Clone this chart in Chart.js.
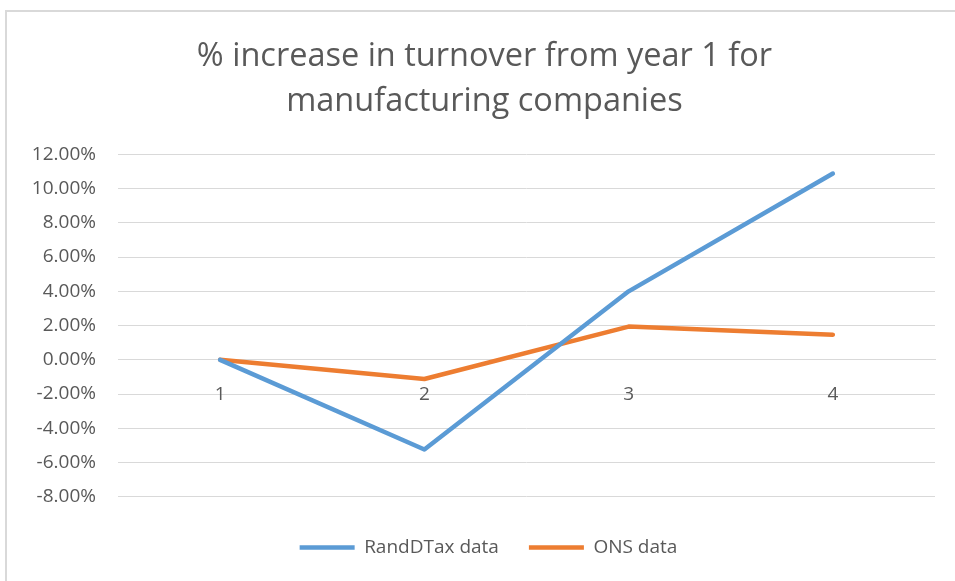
<!DOCTYPE html>
<html>
<head>
<meta charset="utf-8">
<script src="https://cdn.jsdelivr.net/npm/chart.js@4"></script>
<style>
  body { margin: 0; background: #fff; }
  #frame {
    position: absolute; left: 5px; top: 10px; width: 1000px; height: 700px;
    border-left: 2px solid #d9d9d9; border-top: 2px solid #d9d9d9;
  }
  #wrap { position: absolute; left: 0; top: 0; width: 955px; height: 581px; }
</style>
</head>
<body>
<div id="frame"></div>
<div id="wrap"><canvas id="chart"></canvas></div>
<script>
const years = ["1", "2", "3", "4"];
const randdTax = [0, -5.24, 4.0, 10.88];
const onsData = [0, -1.12, 1.94, 1.47];
const yMin = -8;
const yMax = 12;
const yStep = 2;

const textColor = "#595959";
const gridColor = "#d9d9d9";
const fontFamily = "'Open Sans', 'Noto Sans', sans-serif";

// title and legend sit a little right of the canvas centre in the original
const nudgeBoxes = {
  id: "nudgeBoxes",
  afterLayout(chart) {
    if (chart.titleBlock) {
      chart.titleBlock.left += 14;
    }
    if (chart.legend) {
      chart.legend.left += 22;
    }
  },
};

const ctx = document.getElementById("chart").getContext("2d");
const chart = new Chart(ctx, {
  type: "line",
  data: {
    labels: years,
    datasets: [
      {
        label: "RandDTax data",
        data: randdTax,
        borderColor: "#5b9bd5",
        backgroundColor: "#5b9bd5",
        borderWidth: 4.5,
        borderCapStyle: "round",
        borderJoinStyle: "round",
        pointRadius: 0,
        fill: false,
        tension: 0,
      },
      {
        label: "ONS data",
        data: onsData,
        borderColor: "#ed7d31",
        backgroundColor: "#ed7d31",
        borderWidth: 4.5,
        borderCapStyle: "round",
        borderJoinStyle: "round",
        pointRadius: 0,
        fill: false,
        tension: 0,
      },
    ],
  },
  plugins: [nudgeBoxes],
  options: {
    responsive: true,
    maintainAspectRatio: false,
    animation: false,
    layout: {
      padding: { left: 20, right: 20, top: 0, bottom: 14 },
    },
    plugins: {
      title: {
        display: true,
        text: ["% increase in turnover from year 1 for", "manufacturing companies"],
        color: textColor,
        font: { family: fontFamily, size: 32.5, weight: "normal", lineHeight: 1.39 },
        padding: { top: 34, bottom: 30 },
      },
      legend: {
        position: "bottom",
        title: {
          display: true,
          text: " ",
          font: { size: 1 },
          padding: 5,
        },
        labels: {
          color: textColor,
          font: { family: fontFamily, size: 19 },
          usePointStyle: true,
          pointStyle: "line",
          pointStyleWidth: 55,
          padding: 30,
        },
      },
      tooltip: { enabled: false },
    },
    scales: {
      x: {
        position: { y: 0 },
        offset: true,
        grid: { display: false, drawTicks: false, offset: true },
        border: { display: true, color: gridColor, width: 1 },
        ticks: {
          color: textColor,
          font: { family: fontFamily, size: 19 },
          padding: 23,
        },
      },
      y: {
        min: yMin,
        max: yMax,
        grid: { color: gridColor, lineWidth: 1, drawTicks: false },
        border: { display: false },
        ticks: {
          stepSize: yStep,
          color: textColor,
          font: { family: fontFamily, size: 19 },
          padding: 22,
          callback: function (value) {
            return value.toFixed(2) + "%";
          },
        },
        afterFit: function (scale) {
          scale.width = 98;
        },
      },
    },
  },
});
</script>
</body>
</html>
